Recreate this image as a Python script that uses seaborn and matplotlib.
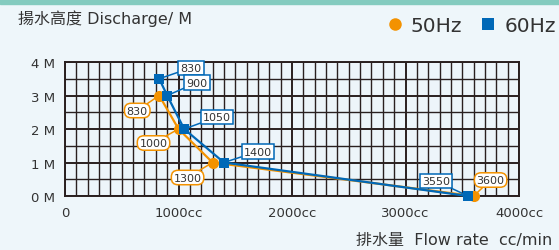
import matplotlib
matplotlib.use("Agg")
import matplotlib.pyplot as plt
from matplotlib.patches import Rectangle
from matplotlib.lines import Line2D
import seaborn as sns
import pandas as pd

# data
flow_50 = [830, 1000, 1300, 3600]
head_50 = [3, 2, 1, 0]
flow_60 = [830, 900, 1050, 1400, 3550]
head_60 = [3.5, 3, 2, 1, 0]

x_ticks = [0, 1000, 2000, 3000, 4000]
x_labels = ["0", "1000cc", "2000cc", "3000cc", "4000cc"]
y_ticks = [0, 1, 2, 3, 4]
y_labels = ["0 M", "1 M", "2 M", "3 M", "4 M"]

# label offsets in pixels (box centre relative to point)
off_50 = [(-22, -15), (-25, -14), (-25, -15), (17, 16)]
off_60 = [(32, 11), (30, 13), (33, 12), (34, 11), (-32, 15)]

orange = "#f39200"
blue = "#0068b7"
grid_col = "#2a2020"
txt = "#333333"

sns.set_theme(style="white")
plt.rcParams["font.family"] = ["DejaVu Sans", "Noto Sans CJK TC"]

fig = plt.figure(figsize=(5.59, 2.51), dpi=100, facecolor="#eef6fa")
ax = fig.add_axes([0.1163, 0.2151, 0.8122, 0.5339])
ax.set_facecolor("#edf5fa")

# teal strip on top
fig.patches.append(Rectangle((0, 0.98), 1, 0.02, transform=fig.transFigure,
                             color="#84cbbf", zorder=0))

df50 = pd.DataFrame({"flow": flow_50, "head": head_50})
df60 = pd.DataFrame({"flow": flow_60, "head": head_60})

sns.lineplot(data=df50, x="flow", y="head", ax=ax, color=orange, lw=1.6,
             marker="o", markersize=8, markeredgewidth=0, sort=False,
             clip_on=False, zorder=4)
sns.lineplot(data=df60, x="flow", y="head", ax=ax, color=blue, lw=1.6,
             marker="s", markersize=7.5, markeredgewidth=0, sort=False,
             clip_on=False, zorder=5)

ax.set_xlim(0, 4000)
ax.set_ylim(0, 4)
ax.set_xticks(x_ticks)
ax.set_xticklabels(x_labels, fontsize=9.5, color=txt)
ax.set_yticks(y_ticks)
ax.set_yticklabels(y_labels, fontsize=9.5, color=txt)
ax.set_xticks(range(0, 4001, 100), minor=True)
ax.set_yticks([0.5 * i for i in range(9)], minor=True)
ax.tick_params(which="both", length=0)
ax.tick_params(axis="x", pad=7)
ax.tick_params(axis="y", pad=7)
ax.grid(which="minor", color=grid_col, lw=1.0)
ax.grid(which="major", color=grid_col, lw=1.4)
for s in ax.spines.values():
    s.set_color(grid_col)
    s.set_linewidth(1.4)
ax.set_xlabel("")
ax.set_ylabel("")

# callout labels
for fx, hy, off in zip(flow_50, head_50, off_50):
    ax.annotate(str(fx), (fx, hy), xytext=off, textcoords="offset pixels",
                ha="center", va="center", fontsize=8, color=txt,
                bbox=dict(boxstyle="round,pad=0.2,rounding_size=0.6",
                          fc="white", ec=orange, lw=1.1),
                arrowprops=dict(arrowstyle="-", color=orange, lw=1.1,
                                shrinkA=0, shrinkB=2),
                zorder=6, annotation_clip=False)
for fx, hy, off in zip(flow_60, head_60, off_60):
    ax.annotate(str(fx), (fx, hy), xytext=off, textcoords="offset pixels",
                ha="center", va="center", fontsize=8, color=txt,
                bbox=dict(boxstyle="square,pad=0.2", fc="white", ec=blue, lw=1.1),
                arrowprops=dict(arrowstyle="-", color=blue, lw=1.1,
                                shrinkA=0, shrinkB=2),
                zorder=6, annotation_clip=False)

# title, axis caption, legend
fig.text(18 / 559, 1 - 19 / 251, "揚水高度 Discharge/ M", fontsize=11.5,
         color=txt, va="center", ha="left")
fig.text(552 / 559, 1 - 240 / 251, "排水量  Flow rate  cc/min", fontsize=11.5,
         color=txt, va="center", ha="right")

handles = [
    Line2D([], [], color=orange, marker="o", ls="", markersize=9, markeredgewidth=0),
    Line2D([], [], color=blue, marker="s", ls="", markersize=8, markeredgewidth=0),
]
fig.legend(handles, ["50Hz", "60Hz"], loc="center right",
           bbox_to_anchor=(556 / 559, 1 - 27 / 251), ncol=2, frameon=False,
           fontsize=14.5, handletextpad=0.3, columnspacing=0.8,
           handlelength=1.0, labelcolor=txt, borderaxespad=0, borderpad=0)

fig.savefig("out.png", dpi=100, facecolor=fig.get_facecolor())
